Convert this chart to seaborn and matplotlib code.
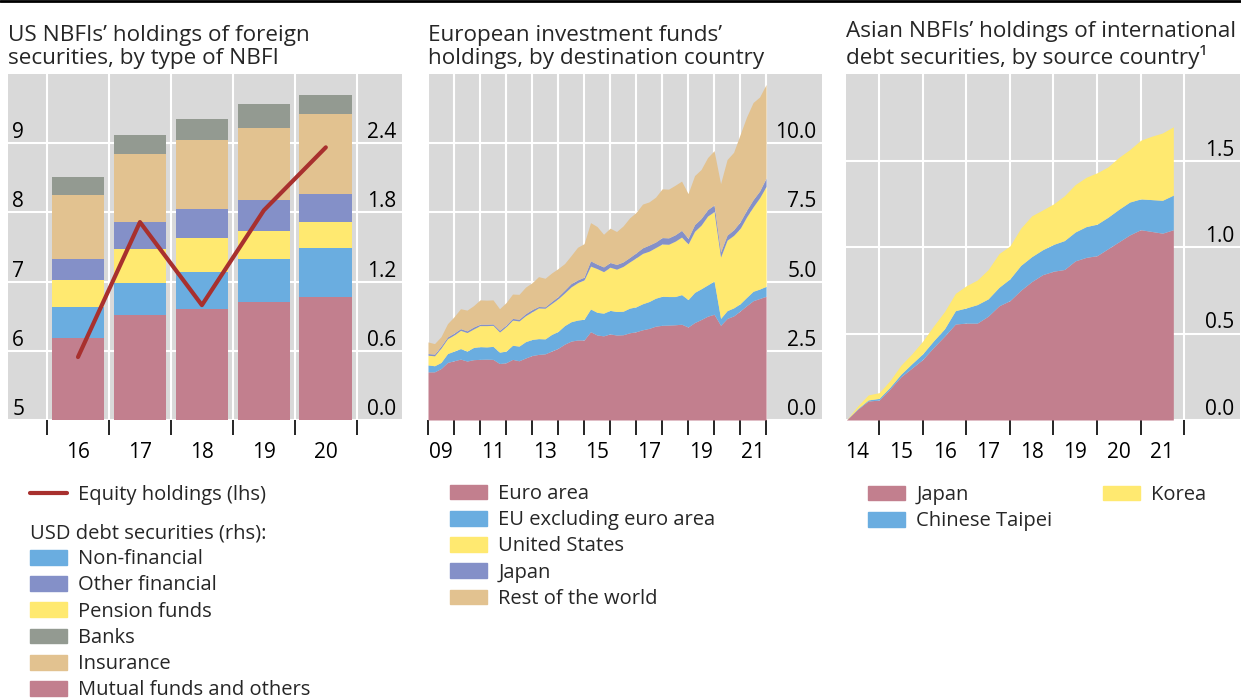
import numpy as np
import seaborn as sns
import matplotlib.pyplot as plt
from matplotlib.lines import Line2D
from matplotlib.patches import Patch

PINK = '#c27f8e'
BLUE = '#6aade0'
YELLOW = '#ffe970'
PURPLE = '#8490c8'
TAN = '#e2c290'
GREY = '#939a91'
RED = '#a8302e'
BG = '#d9d9d9'

# --- panel 1: US NBFIs (USD trn) ---
years_us = ['16', '17', '18', '19', '20']
mutual = [0.71, 0.91, 0.96, 1.02, 1.07]
nonfin = [0.27, 0.28, 0.32, 0.38, 0.42]
pension = [0.23, 0.29, 0.30, 0.24, 0.23]
otherfin = [0.19, 0.24, 0.25, 0.27, 0.24]
insurance = [0.55, 0.59, 0.60, 0.62, 0.69]
banks = [0.16, 0.16, 0.18, 0.21, 0.17]
equity = [5.91, 7.86, 6.66, 8.03, 8.94]

# --- panel 2: European investment funds, quarterly 2008Q4-2021Q4 ---
euro = [1.74, 1.74, 1.86, 2.08, 2.14, 2.20, 2.13, 2.18, 2.19, 2.20, 2.19, 2.04, 2.07, 2.19,
        2.14, 2.24, 2.33, 2.37, 2.39, 2.49, 2.59, 2.74, 2.85, 2.89, 2.89, 3.19, 3.07, 3.04,
        3.11, 3.07, 3.08, 3.15, 3.19, 3.26, 3.31, 3.39, 3.42, 3.43, 3.44, 3.46, 3.36, 3.52,
        3.63, 3.75, 3.82, 3.42, 3.67, 3.76, 3.94, 4.13, 4.31, 4.39, 4.47]
eu_ex = [0.25, 0.22, 0.22, 0.32, 0.35, 0.38, 0.36, 0.44, 0.46, 0.44, 0.47, 0.41, 0.42, 0.51,
         0.53, 0.59, 0.58, 0.57, 0.54, 0.60, 0.61, 0.67, 0.70, 0.72, 0.75, 0.82, 0.82, 0.82,
         0.85, 0.85, 0.85, 0.89, 0.90, 0.94, 0.97, 1.01, 1.05, 1.03, 1.02, 1.07, 0.99, 1.09,
         1.11, 1.13, 1.20, 0.25, 0.28, 0.29, 0.26, 0.30, 0.34, 0.34, 0.36]
us = [0.35, 0.36, 0.52, 0.54, 0.58, 0.66, 0.67, 0.67, 0.76, 0.77, 0.76, 0.73, 0.88, 0.91,
      0.91, 0.94, 1.00, 1.11, 1.11, 1.12, 1.18, 1.18, 1.26, 1.35, 1.42, 1.55, 1.58, 1.50,
      1.56, 1.53, 1.62, 1.67, 1.77, 1.82, 1.82, 1.83, 1.89, 1.89, 2.00, 2.08, 2.01, 2.21,
      2.30, 2.49, 2.51, 2.22, 2.55, 2.62, 2.72, 2.91, 3.05, 3.30, 3.61]
japan_eu = [0.06, 0.06, 0.07, 0.06, 0.07, 0.06, 0.06, 0.07, 0.05, 0.05, 0.05, 0.06, 0.06, 0.06,
            0.06, 0.07, 0.08, 0.05, 0.05, 0.07, 0.08, 0.10, 0.12, 0.10, 0.10, 0.19, 0.16, 0.17,
            0.17, 0.17, 0.16, 0.16, 0.18, 0.20, 0.22, 0.20, 0.23, 0.23, 0.23, 0.24, 0.20, 0.24,
            0.24, 0.23, 0.24, 0.18, 0.18, 0.20, 0.24, 0.24, 0.26, 0.24, 0.30]
rest = [0.42, 0.38, 0.34, 0.48, 0.59, 0.72, 0.75, 0.77, 0.88, 0.87, 0.87, 0.78, 0.81, 0.88,
        0.90, 0.96, 0.97, 1.08, 1.03, 1.03, 1.01, 0.96, 1.01, 1.18, 1.21, 1.38, 1.36, 1.18,
        1.24, 1.19, 1.30, 1.43, 1.46, 1.58, 1.56, 1.62, 1.76, 1.76, 1.79, 1.78, 1.62, 1.77,
        1.77, 1.88, 1.96, 2.47, 2.73, 2.80, 3.15, 3.37, 3.51, 3.40, 3.38]
quarters_eu = np.arange(2009, 2022.01, 0.25)

# --- panel 3: Asian NBFIs, quarterly 2014Q1-2021Q3 ---
japan_as = [0.0, 0.06, 0.11, 0.115, 0.18, 0.25, 0.30, 0.35, 0.42, 0.485, 0.555, 0.56, 0.56,
            0.60, 0.66, 0.69, 0.75, 0.80, 0.84, 0.86, 0.87, 0.92, 0.94, 0.95, 0.99, 1.03,
            1.07, 1.10, 1.09, 1.08, 1.10]
taipei = [0.0, 0.004, 0.006, 0.01, 0.01, 0.015, 0.025, 0.033, 0.038, 0.042, 0.077, 0.088,
          0.107, 0.10, 0.107, 0.126, 0.144, 0.144, 0.144, 0.155, 0.167, 0.167, 0.178, 0.182,
          0.182, 0.188, 0.19, 0.178, 0.184, 0.19, 0.20]
korea = [0.0, 0.015, 0.029, 0.033, 0.038, 0.052, 0.057, 0.073, 0.086, 0.10, 0.10, 0.128,
         0.142, 0.169, 0.195, 0.19, 0.215, 0.236, 0.23, 0.234, 0.259, 0.274, 0.285, 0.297,
         0.291, 0.30, 0.303, 0.339, 0.366, 0.389, 0.395]
quarters_as = np.arange(2014.25, 2021.76, 0.25)

sns.set_theme(style='white')
plt.rcParams['font.family'] = ['Open Sans', 'DejaVu Sans']
FS = 15        # tick labels
LFS = 14.5     # legend
TFS = 16.2     # titles

W, H = 1241, 700
fig = plt.figure(figsize=(W / 100, H / 100), dpi=100)


def px_axes(x0, x1, y0=74, y1=420):
    return fig.add_axes([x0 / W, 1 - y1 / H, (x1 - x0) / W, (y1 - y0) / H])


def base_style(ax):
    ax.set_facecolor(BG)
    for s in ax.spines.values():
        s.set_visible(False)
    ax.set_axisbelow(True)
    ax.set_xlabel('')
    ax.set_ylabel('')


def right_labels(ax, ticks, fmt):
    ax.yaxis.tick_right()
    ax.set_yticks(ticks, [fmt.format(t) for t in ticks])
    ax.tick_params(axis='y', length=0, pad=-4, labelsize=FS, labelcolor='black')
    for lab in ax.get_yticklabels():
        lab.set_horizontalalignment('right')
        lab.set_verticalalignment('bottom')
    ax.yaxis.grid(True, color='white', lw=1.5)


def x_ticks(ax, major, label_pos, labels, grid=True):
    ax.set_xticks(major)
    ax.set_xticks(label_pos, labels, minor=True)
    ax.tick_params(axis='x', which='major', length=11, width=1.2, color='black',
                   direction='out', bottom=True, labelbottom=False)
    ax.tick_params(axis='x', which='minor', length=0, pad=16, labelsize=FS,
                   labelcolor='black', bottom=True)
    ax.xaxis.grid(grid, which='major', color='white', lw=1.5)
    ax.xaxis.grid(False, which='minor')


def title(ax, text):
    ax.set_title(text, loc='left', fontsize=TFS, pad=7, linespacing=1.15)


# ---------- panel 1 ----------
ax1 = px_axes(8, 402)
stack = [mutual, nonfin, pension, otherfin, insurance, banks]
stack_cols = [PINK, BLUE, YELLOW, PURPLE, TAN, GREY]
levels = np.cumsum(stack, axis=0)
for top, col in reversed(list(zip(levels, stack_cols))):
    sns.barplot(x=years_us, y=top, color=col, width=0.85, saturation=1,
                linewidth=0, ax=ax1)
ax1b = ax1.twinx()
sns.lineplot(x=years_us, y=equity, color=RED, lw=3, ax=ax1b)
base_style(ax1)
base_style(ax1b)
ax1.set_ylim(0, 3.0)
right_labels(ax1, [0.0, 0.6, 1.2, 1.8, 2.4], '{:.1f}')
ax1.set_xlim(-1.13, 5.23)
x_ticks(ax1, np.arange(-0.5, 5), np.arange(5), years_us)
ax1b.set_ylim(5, 10)
ax1b.yaxis.set_ticks_position('left')
ax1b.set_yticks([5, 6, 7, 8, 9], ['5', '6', '7', '8', '9'])
ax1b.tick_params(axis='y', length=0, pad=-3, labelsize=FS, labelcolor='black',
                 left=True, right=False, labelleft=True, labelright=False)
for lab in ax1b.get_yticklabels():
    lab.set_horizontalalignment('left')
    lab.set_verticalalignment('bottom')
ax1b.grid(False)
title(ax1, 'US NBFIs’ holdings of foreign\nsecurities, by type of NBFI')

# ---------- panel 2 ----------
ax2 = px_axes(428, 822)
ax2.stackplot(quarters_eu, euro, eu_ex, us, japan_eu, rest,
              colors=[PINK, BLUE, YELLOW, PURPLE, TAN], lw=0)
base_style(ax2)
ax2.set_xlim(2009, 2024.15)
ax2.set_ylim(0, 12.5)
right_labels(ax2, [0.0, 2.5, 5.0, 7.5, 10.0], '{:.1f}')
odd = np.arange(2009, 2022, 2)
x_ticks(ax2, np.arange(2009, 2023), odd + 0.5, [f'{y % 100:02d}' for y in odd], grid=False)
for yr in range(2010, 2023, 2):
    ax2.axvline(yr, color='white', lw=1.5, zorder=0.5)
title(ax2, 'European investment funds’\nholdings, by destination country')

# ---------- panel 3 ----------
ax3 = px_axes(846, 1240)
ax3.stackplot(quarters_as, japan_as, taipei, korea, colors=[PINK, BLUE, YELLOW], lw=0)
base_style(ax3)
ax3.set_xlim(2014.24, 2023.28)
ax3.set_ylim(0, 2.0)
right_labels(ax3, [0.0, 0.5, 1.0, 1.5], '{:.1f}')
yrs = np.arange(2014, 2022)
x_ticks(ax3, np.arange(2015, 2023), yrs + 0.5, [f'{y % 100:02d}' for y in yrs])
title(ax3, 'Asian NBFIs’ holdings of international\ndebt securities, by source country¹')

# ---------- legends ----------
leg_kw = dict(loc='upper left', frameon=False, borderpad=0, borderaxespad=0, fontsize=LFS,
              handlelength=1.85, handleheight=0.75, handletextpad=0.55, labelspacing=0.31)

fig.legend([Line2D([], [], color=RED, lw=3)], ['Equity holdings (lhs)'],
           bbox_to_anchor=(30 / W, 1 - 485 / H), **leg_kw)
p1_labels = ['Non-financial', 'Other financial', 'Pension funds', 'Banks', 'Insurance',
             'Mutual funds and others']
p1_cols = [BLUE, PURPLE, YELLOW, GREY, TAN, PINK]
fig.legend([Patch(color=c) for c in p1_cols], p1_labels,
           title='USD debt securities (rhs):', title_fontsize=LFS, alignment='left',
           bbox_to_anchor=(30 / W, 1 - 523 / H), **leg_kw)

fig.legend([Patch(color=c) for c in [PINK, BLUE, YELLOW, PURPLE, TAN]],
           ['Euro area', 'EU excluding euro area', 'United States', 'Japan', 'Rest of the world'],
           bbox_to_anchor=(450 / W, 1 - 484 / H), **leg_kw)

fig.legend([Patch(color=c) for c in [PINK, BLUE, YELLOW]],
           ['Japan', 'Chinese Taipei', 'Korea'], ncol=2, columnspacing=2.5,
           bbox_to_anchor=(868 / W, 1 - 485 / H), **leg_kw)

fig.add_artist(Line2D([0, 1], [1 - 1 / H, 1 - 1 / H], color='black', lw=2,
                      transform=fig.transFigure))

fig.savefig('out.png', dpi=100)
